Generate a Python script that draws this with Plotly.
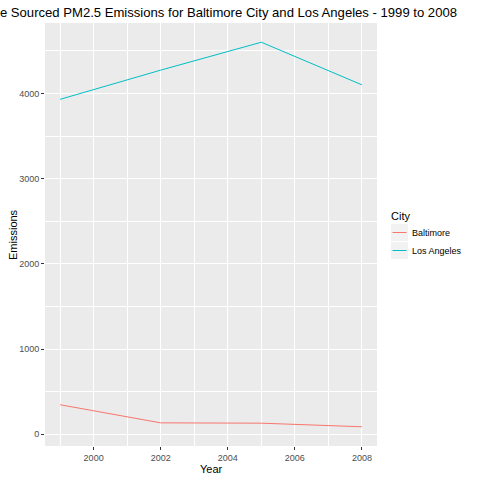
import plotly.graph_objects as go

years = [1999, 2002, 2005, 2008]
baltimore = [346.82, 134.31, 130.43, 88.28]
los_angeles = [3931.12, 4273.71, 4601.41, 4101.32]
cities = ["Baltimore", "Los Angeles"]
colors = ["#F8766D", "#00BFC4"]

fig = go.Figure()
for name, vals, col in zip(cities, [baltimore, los_angeles], colors):
    fig.add_trace(go.Scatter(x=years, y=vals, mode="lines", name=name,
                             line=dict(color=col, width=1), showlegend=False))

FONT = "Liberation Sans, Arial, sans-serif"
L, R, T, B = 45, 103, 23, 34
W = H = 480
pw = W - L - R
ph = H - T - B


def px(x):
    return (x - L) / pw


def py(y):
    return (H - B - y) / ph


# manual ggplot-style legend
fig.add_annotation(text="City", xref="paper", yref="paper", x=px(389), y=py(215.5),
                   xanchor="left", yanchor="middle", showarrow=False,
                   font=dict(size=11, color="black", family=FONT))
for i, (name, col) in enumerate(zip(cities, colors)):
    top = 224 + i * 18
    cy = top + 8.5
    fig.add_shape(type="rect", xref="paper", yref="paper",
                  x0=px(391), x1=px(408), y0=py(top), y1=py(top + 17),
                  fillcolor="#F2F2F2", line=dict(width=0))
    fig.add_shape(type="line", xref="paper", yref="paper",
                  x0=px(392.5), x1=px(406.5), y0=py(cy), y1=py(cy),
                  line=dict(color=col, width=1))
    fig.add_annotation(text=name, xref="paper", yref="paper", x=px(410), y=py(cy),
                       xanchor="left", yanchor="middle", showarrow=False,
                       font=dict(size=9, color="black", family=FONT))

# axis titles
fig.add_annotation(text="Year", xref="paper", yref="paper", x=0.5, y=py(469),
                   xanchor="center", yanchor="middle", showarrow=False,
                   font=dict(size=11, color="black", family=FONT))
fig.add_annotation(text="Emissions", xref="paper", yref="paper", x=px(12.5), y=0.5,
                   xanchor="center", yanchor="middle", showarrow=False, textangle=-90,
                   font=dict(size=11, color="black", family=FONT))

fig.update_layout(
    width=W, height=H,
    margin=dict(l=L, r=R, t=T, b=B, pad=0, autoexpand=False),
    paper_bgcolor="white", plot_bgcolor="#EBEBEB",
    font=dict(family=FONT, color="black"),
    showlegend=False,
    title=dict(text="Motor Vehicle Sourced PM2.5 Emissions for Baltimore City and Los Angeles - 1999 to 2008",
               x=457 / W, xanchor="right", xref="container",
               y=1 - 12 / H, yanchor="middle", yref="container",
               font=dict(size=13.1, family=FONT, color="black")),
    xaxis=dict(range=[1998.55, 2008.45], tick0=2000, dtick=2, automargin=False,
               showgrid=True, gridcolor="white", gridwidth=1.1,
               zeroline=False, showline=False,
               ticks="outside", ticklen=3, tickcolor="#333333", tickwidth=1,
               tickfont=dict(size=9, color="#4D4D4D", family=FONT),
               minor=dict(tick0=1999, dtick=1, showgrid=True, gridcolor="white", gridwidth=0.55)),
    yaxis=dict(range=[-137.4, 4827], tick0=0, dtick=1000, automargin=False,
               showgrid=True, gridcolor="white", gridwidth=1.1,
               zeroline=False, showline=False,
               ticks="outside", ticklen=3, tickcolor="#333333", tickwidth=1,
               tickfont=dict(size=9, color="#4D4D4D", family=FONT),
               minor=dict(tick0=500, dtick=1000, showgrid=True, gridcolor="white", gridwidth=0.55)),
)

fig.write_html("out.html", config={"displayModeBar": False},
               post_script="document.body.style.margin='0';")
